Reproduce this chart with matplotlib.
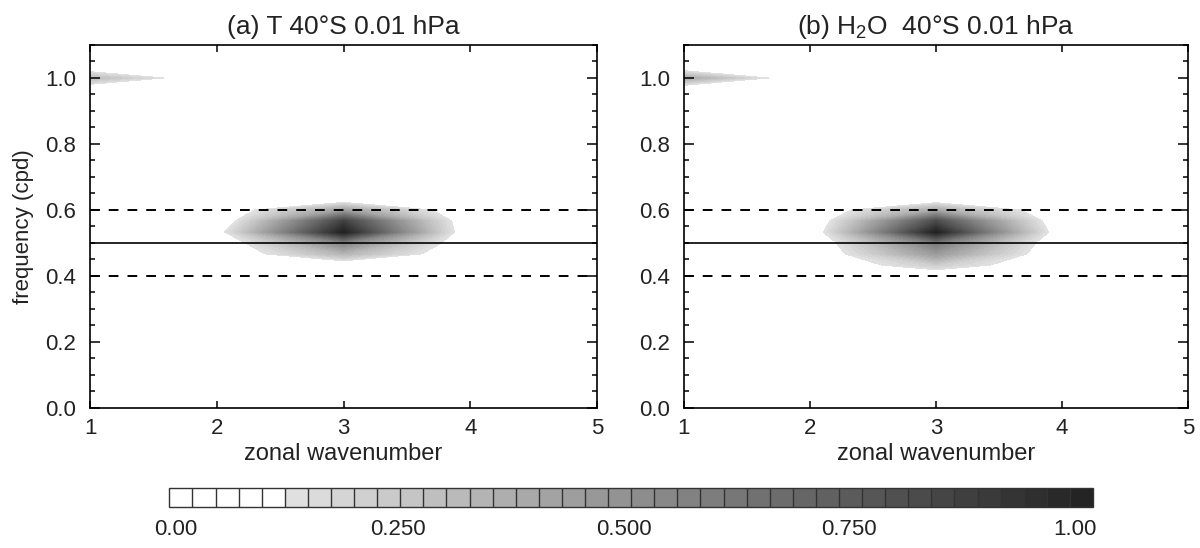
import numpy as np
import matplotlib
matplotlib.use("Agg")
import matplotlib.pyplot as plt

plt.rcParams['font.family'] = ['Liberation Sans', 'DejaVu Sans']
plt.rcParams['mathtext.fontset'] = 'custom'
plt.rcParams['mathtext.rm'] = 'Liberation Sans'
plt.rcParams['mathtext.it'] = 'Liberation Sans:italic'
plt.rcParams['lines.scale_dashes'] = False

# grid: zonal wavenumber (columns) x frequency in cpd (rows)
wavenumber = [1, 2, 3, 4, 5]
frequency = [0.0, 0.4, 0.433, 0.467, 0.5, 0.533, 0.567, 0.6, 0.633, 0.967, 1.0, 1.033, 1.1]

# (a) temperature, normalised power at each wavenumber
t_wn1 = [0, 0, 0, 0, 0, 0, 0, 0, 0, 0, 0.30, 0, 0]
t_wn2 = [0, 0, 0, 0, 0, 0.07, 0, 0, 0, 0, 0, 0, 0]
t_wn3 = [0, 0, 0, 0.33, 0.55, 1.00, 0.85, 0.42, 0, 0, 0, 0, 0]
t_wn4 = [0, 0, 0, 0, 0, 0, 0, 0, 0, 0, 0, 0, 0]
t_wn5 = [0, 0, 0, 0, 0, 0, 0, 0, 0, 0, 0, 0, 0]

# (b) water vapour
h_wn1 = [0, 0, 0, 0, 0, 0, 0, 0, 0, 0, 0.38, 0, 0]
h_wn2 = [0, 0, 0, 0, 0, 0.02, 0, 0, 0, 0, 0, 0, 0]
h_wn3 = [0, 0, 0.22, 0.45, 0.60, 1.00, 0.80, 0.38, 0, 0, 0, 0, 0]
h_wn4 = [0, 0, 0, 0, 0, 0.02, 0, 0, 0, 0, 0, 0, 0]
h_wn5 = [0, 0, 0, 0, 0, 0, 0, 0, 0, 0, 0, 0, 0]

titles = ['(a) T 40°S 0.01 hPa', r'(b) H$_2$O  40°S 0.01 hPa']
cbar_ticks = [0.007, 0.247, 0.492, 0.736, 0.981]
cbar_labels = ['0.00', '0.250', '0.500', '0.750', '1.00']

levels = np.linspace(0, 1, 41)
colors = ['white'] * 5 + [str(g) for g in np.linspace(0.88, 0.14, 35)]

fields = [np.array([t_wn1, t_wn2, t_wn3, t_wn4, t_wn5]).T,
          np.array([h_wn1, h_wn2, h_wn3, h_wn4, h_wn5]).T]

fig = plt.figure(figsize=(12, 5.48), dpi=100)
ax1 = fig.add_axes([0.075, 0.2555, 0.4225, 0.6624])
ax2 = fig.add_axes([0.570, 0.2555, 0.4200, 0.6624])
cax = fig.add_axes([0.1411, 0.0755, 0.7697, 0.0336])

txt = '#222222'
for i, ax in enumerate([ax1, ax2]):
    cf = ax.contourf(wavenumber, frequency, fields[i], levels=levels, colors=colors)
    ax.axhline(0.5, color='k', lw=1.2)
    ax.axhline(0.4, color='k', lw=1.4, dashes=(7, 6.5))
    ax.axhline(0.6, color='k', lw=1.4, dashes=(7, 6.5))
    ax.set_xlim(1, 5)
    ax.set_ylim(0, 1.1)
    ax.set_xticks([1, 2, 3, 4, 5])
    ax.set_yticks([0.0, 0.2, 0.4, 0.6, 0.8, 1.0])
    ax.set_yticks(np.arange(0, 1.101, 0.05), minor=True)
    ax.tick_params(axis='both', which='both', direction='in', top=True, right=True,
                   labelsize=16, labelcolor=txt, width=1.1)
    ax.tick_params(axis='y', which='major', length=7.2, pad=10)
    ax.tick_params(axis='y', which='minor', length=3.6)
    ax.tick_params(axis='x', which='major', length=5, pad=7)
    for s in ax.spines.values():
        s.set_linewidth(1.2)
    ax.set_xlabel('zonal wavenumber', fontsize=17, color=txt, labelpad=3)
    ax.set_title(titles[i], fontsize=19, color=txt, pad=8)
ax1.set_ylabel('frequency (cpd)', fontsize=16, color=txt, labelpad=8)

cb = fig.colorbar(cf, cax=cax, orientation='horizontal', ticks=cbar_ticks, drawedges=True)
cb.ax.set_xticklabels(cbar_labels)
cb.ax.tick_params(length=0, labelsize=16, labelcolor=txt, pad=9)
cb.outline.set_linewidth(1.0)
cb.outline.set_edgecolor('#333333')
cb.dividers.set_color('#333333')
cb.dividers.set_linewidth(1.0)

fig.savefig('out.png', dpi=100)
